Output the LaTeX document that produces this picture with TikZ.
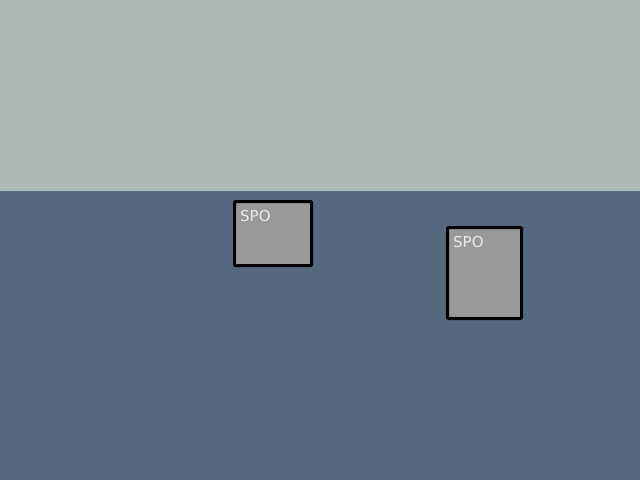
\documentclass[tikz,border=0pt]{standalone}
\usepackage{fontspec}
\setmainfont{DejaVu Sans}
\definecolor{skyc}{HTML}{AFB9B7}
\definecolor{groundc}{HTML}{55697E}
\definecolor{boxc}{HTML}{999999}
\definecolor{txtc}{HTML}{E8E8E8}
\begin{document}
\begin{tikzpicture}[x=1pt,y=-1pt,
  spobox/.style={draw=black,line width=3pt,fill=boxc,rounded corners=1pt},
  spolabel/.style={anchor=north west,inner sep=0pt,text=txtc,font=\fontsize{15}{15}\selectfont}]
\useasboundingbox (0,0) rectangle (640,480);
\fill[skyc] (0,0) rectangle (640,191);
\fill[groundc] (0,191) rectangle (640,480);
\draw[spobox] (234.5,201.5) rectangle (311.5,265.5);
\node[spolabel] (a) at (240,210) {SPO};
\draw[spobox] (447.5,227.5) rectangle (521.5,318.5);
\node[spolabel] (b) at (453,236) {SPO};
\end{tikzpicture}
\end{document}
